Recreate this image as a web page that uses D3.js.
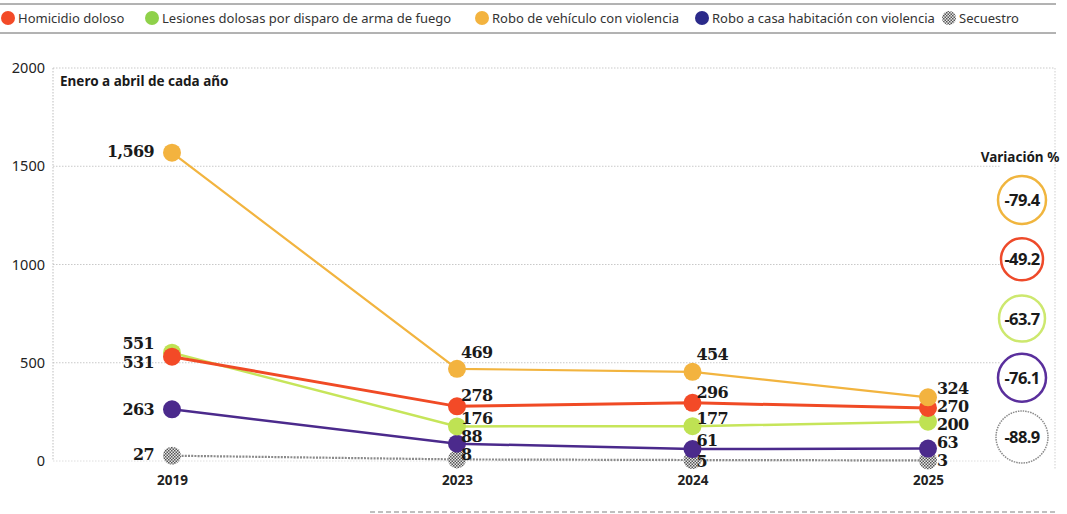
<!DOCTYPE html>
<html>
<head>
<meta charset="utf-8">
<script src="https://cdn.jsdelivr.net/npm/d3@7"></script>
<style>
  body { margin: 0; background: #fff; }
  svg { display: block; font-family: "Noto Sans", sans-serif; }
</style>
</head>
<body>
<svg></svg>
<script>
// data: enero a abril de cada año
let years = ["2019", "2023", "2024", "2025"]
let homicidio = [531, 278, 296, 270]
let lesiones = [551, 176, 177, 200]
let vehiculo = [1569, 469, 454, 324]
let casa = [263, 88, 61, 63]
let secuestro = [27, 8, 5, 3]
let yTicks = [0, 500, 1000, 1500, 2000]
let legendNames = ["Homicidio doloso", "Lesiones dolosas por disparo de arma de fuego", "Robo de vehículo con violencia", "Robo a casa habitación con violencia", "Secuestro"]
let variacion = [-79.4, -49.2, -63.7, -76.1, -88.9]   // orden: vehículo, homicidio, lesiones, casa, secuestro

let width = 1067
let height = 514

let svg = d3.select('svg')
    .attr('width', width)
    .attr('height', height)

let defs = svg.append('defs')
let pat = defs.append('pattern')
    .attr('id', 'hatch')
    .attr('width', 3).attr('height', 3)
    .attr('patternUnits', 'userSpaceOnUse')
pat.append('rect').attr('width', 3).attr('height', 3).attr('fill', '#e8e8e8')
pat.append('rect').attr('width', 1.5).attr('height', 1.5).attr('fill', '#555')
pat.append('rect').attr('x', 1.5).attr('y', 1.5).attr('width', 1.5).attr('height', 1.5).attr('fill', '#555')

// series, drawn bottom to top
let series = [
    { name: 'secuestro', values: secuestro, color: '#8a8a8a', dot: 'url(#hatch)', width: 2.2, dash: '2,1.2' },
    { name: 'casa', values: casa, color: '#4b2a8c', dot: '#4b2a8c', width: 2.5 },
    { name: 'lesiones', values: lesiones, color: '#c6e55a', dot: '#bfe253', width: 2.5 },
    { name: 'homicidio', values: homicidio, color: '#f04a25', dot: '#f34a27', width: 3 },
    { name: 'vehiculo', values: vehiculo, color: '#f2b43f', dot: '#f3b33f', width: 2.2 }
]

// label offsets (dy) per series, per year
let labelDy = {
    vehiculo: [4, -11, -12, -3],
    homicidio: [11, -5, -5, 4],
    lesiones: [-4, -2, -2, 8],
    casa: [6, -2, -3, -1],
    secuestro: [4, 1, 7, 6]
}

// scales
let xScale = d3.scaleLinear()
    .domain([2019, 2023, 2025])
    .range([172, 457, 928])

let yScale = d3.scaleLinear()
    .domain([0, 2000])
    .range([461, 68])

// grid
svg.append('g')
    .selectAll('line')
    .data(yTicks.filter(d => d > 0))
    .enter()
    .append('line')
    .attr('x1', 53)
    .attr('x2', d => d === 2000 ? 1055 : 1000)
    .attr('y1', d => yScale(d))
    .attr('y2', d => yScale(d))
    .attr('stroke', '#c9c9c9')
    .attr('stroke-width', 1)
    .attr('stroke-dasharray', '1.5,1.5')

svg.append('line')
    .attr('x1', 53).attr('x2', 53)
    .attr('y1', yScale(2000)).attr('y2', yScale(0))
    .attr('stroke', '#bdbdbd')
    .attr('stroke-dasharray', '1.5,1.5')

svg.append('line')
    .attr('x1', 1055).attr('x2', 1055)
    .attr('y1', yScale(2000)).attr('y2', yScale(0) + 8)
    .attr('stroke', '#cfcfcf')
    .attr('stroke-dasharray', '1.5,1.5')

svg.append('line')
    .attr('x1', 53).attr('x2', 1000)
    .attr('y1', yScale(0)).attr('y2', yScale(0))
    .attr('stroke', '#dedede')
    .attr('stroke-dasharray', '1.5,1.5')

// y axis
let yAxis = d3.axisLeft(yScale).tickValues(yTicks).tickFormat(d3.format('d')).tickSize(0).tickPadding(8)
let gy = svg.append('g')
    .attr('transform', 'translate(53, 0)')
    .call(yAxis)
gy.select('.domain').remove()
gy.selectAll('text')
    .attr('font-family', '"Noto Sans", sans-serif')
    .attr('font-size', 14.5)
    .attr('fill', '#222')

// x axis
let xAxis = d3.axisBottom(xScale).tickValues(years.map(Number)).tickFormat(d3.format('d')).tickSize(0).tickPadding(14)
let gx = svg.append('g')
    .attr('transform', `translate(0, ${yScale(0)})`)
    .call(xAxis)
gx.select('.domain').remove()
gx.selectAll('text')
    .attr('font-family', '"Noto Sans", sans-serif')
    .attr('font-weight', 'bold')
    .attr('font-size', 13.5)
    .attr('fill', '#222')

svg.append('text')
    .attr('x', 60)
    .attr('y', 86)
    .attr('font-size', 13.5)
    .attr('font-weight', 'bold')
    .attr('fill', '#1a1a1a')
    .text('Enero a abril de cada año')

// lines
let line = d3.line()
    .x((d, i) => xScale(+years[i]))
    .y(d => yScale(d))

svg.append('g')
    .selectAll('path')
    .data(series)
    .enter()
    .append('path')
    .attr('d', s => line(s.values))
    .attr('fill', 'none')
    .attr('stroke', s => s.color)
    .attr('stroke-width', s => s.width)
    .attr('stroke-dasharray', s => s.dash || null)

// dots
let dotGroups = svg.append('g')
    .selectAll('g')
    .data(series)
    .enter()
    .append('g')

dotGroups.selectAll('circle')
    .data(s => s.values.map((v, i) => ({ v: v, i: i, s: s })))
    .enter()
    .append('circle')
    .attr('cx', d => xScale(+years[d.i]))
    .attr('cy', d => yScale(d.v))
    .attr('r', 9)
    .attr('fill', d => d.s.dot)

// value labels
let fmt = d3.format(',')
let labels = []
series.forEach(s => {
    s.values.forEach((v, i) => labels.push({ v: v, i: i, s: s }))
})

svg.append('g')
    .selectAll('text')
    .data(labels)
    .enter()
    .append('text')
    .attr('x', d => {
        let x = xScale(+years[d.i])
        if (d.i === 0) return x - 18
        if (d.i === 3) return x + 9
        return x + 4
    })
    .attr('y', d => yScale(d.v) + labelDy[d.s.name][d.i])
    .attr('text-anchor', d => d.i === 0 ? 'end' : 'start')
    .attr('font-family', '"DejaVu Serif", serif')
    .attr('font-weight', 'bold')
    .attr('font-size', 16)
    .attr('letter-spacing', -0.6)
    .attr('fill', '#1a1a1a')
    .text(d => fmt(d.v))

// variación
svg.append('text')
    .attr('x', 1020)
    .attr('y', 162)
    .attr('text-anchor', 'middle')
    .attr('font-size', 13.5)
    .attr('font-weight', 'bold')
    .attr('fill', '#1a1a1a')
    .text('Variación %')

let varColors = ['#f0b53e', '#ee4a2a', '#cde86e', '#5a2f9c', '#8a8a8a']
let varR = [24, 21, 23, 24, 26]
let varY = d3.scalePoint().domain(d3.range(variacion.length)).range([200, 437])

let vg = svg.append('g')
    .selectAll('g')
    .data(variacion)
    .enter()
    .append('g')
    .attr('transform', (d, i) => `translate(1022, ${varY(i)})`)

vg.append('circle')
    .attr('r', (d, i) => varR[i])
    .attr('fill', '#fff')
    .attr('stroke', (d, i) => varColors[i])
    .attr('stroke-width', (d, i) => i === 4 ? 1.5 : 2.5)
    .attr('stroke-dasharray', (d, i) => i === 4 ? '1.5,1' : null)

vg.append('text')
    .attr('text-anchor', 'middle')
    .attr('dy', 6)
    .attr('font-size', 16.5)
    .attr('font-weight', 'bold')
    .attr('letter-spacing', -0.6)
    .attr('fill', '#1a1a1a')
    .text(d => d)

// legend
let legendColors = ['#f34a27', '#8fd14a', '#f3b33f', '#2b2a8a', 'url(#hatch)']
let legendX = [8, 152, 482, 702, 949]

svg.append('line')
    .attr('x1', 0).attr('x2', 1056).attr('y1', 4).attr('y2', 4)
    .attr('stroke', '#666').attr('stroke-width', 1)
svg.append('line')
    .attr('x1', 0).attr('x2', 1056).attr('y1', 33).attr('y2', 33)
    .attr('stroke', '#666').attr('stroke-width', 1)

let lg = svg.append('g')
    .selectAll('g')
    .data(legendNames)
    .enter()
    .append('g')
    .attr('transform', (d, i) => `translate(${legendX[i]}, 18)`)

lg.append('circle')
    .attr('r', 7)
    .attr('fill', (d, i) => legendColors[i])

lg.append('text')
    .attr('x', 10)
    .attr('y', 5)
    .attr('font-size', 13)
    .attr('fill', '#333')
    .text(d => d)

svg.append('line')
    .attr('x1', 370).attr('x2', 1056).attr('y1', 512).attr('y2', 512)
    .attr('stroke', '#aaa').attr('stroke-width', 1.5)
    .attr('stroke-dasharray', '5,3')
</script>
</body>
</html>
